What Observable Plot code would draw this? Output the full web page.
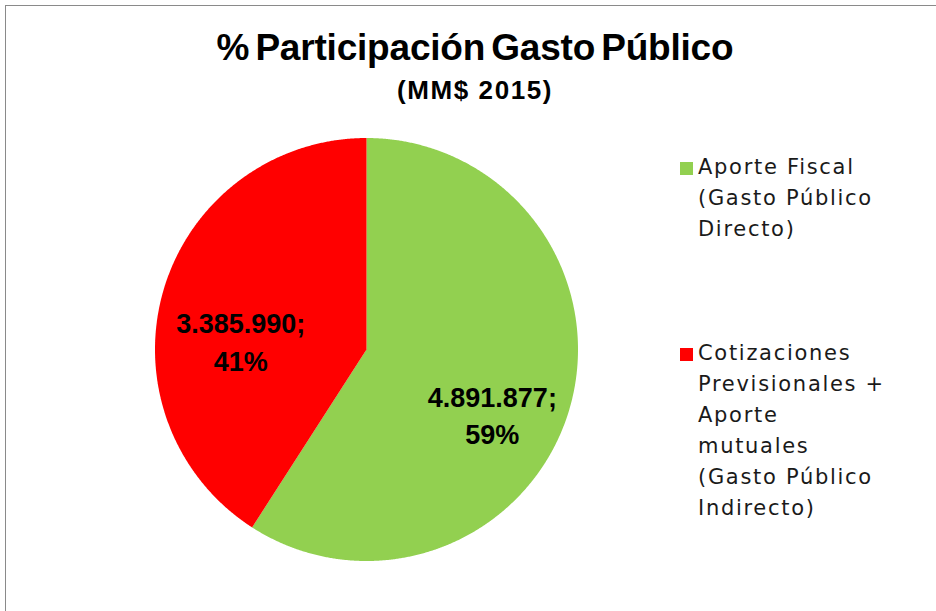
<!DOCTYPE html>
<html>
<head>
<meta charset="utf-8">
<script src="https://cdn.jsdelivr.net/npm/d3@7"></script>
<script src="https://cdn.jsdelivr.net/npm/@observablehq/plot@0.6"></script>
<style>
  html, body { margin: 0; padding: 0; background: #fff; }
  #wrap { position: relative; width: 936px; height: 611px; overflow: hidden; background: #fff; }
  #frame { position: absolute; left: 5px; top: 5px; width: 1000px; height: 700px; border: 1.5px solid #8a8a8a; box-sizing: border-box; }
  #chart { position: absolute; left: 0; top: 0; }
  .title { position: absolute; left: 0; width: 950px; text-align: center; font-family: "Liberation Sans", Arial, sans-serif; font-weight: bold; color: #000; }
  #t1 { top: 27px; font-size: 37px; letter-spacing: -0.2px; word-spacing: -4px; }
  #t2 { top: 75px; font-size: 26px; letter-spacing: 1.6px; }
  .leg { position: absolute; font-family: "DejaVu Sans", sans-serif; font-size: 21px; line-height: 31px; letter-spacing: 1.7px; color: #1a1a1a; }
  .sw { position: absolute; width: 13px; height: 13px; }
</style>
</head>
<body>
<div id="wrap">
  <div id="frame"></div>
  <div id="chart"></div>
  <div class="title" id="t1"></div>
  <div class="title" id="t2"></div>
  <div id="legend"></div>
</div>
<script>
const titleText = "% Participación Gasto Público";
const subtitleText = "(MM$ 2015)";
const categories = ["Aporte Fiscal", "Cotizaciones Previsionales"];
const legendLines = [
  ["Aporte Fiscal", "(Gasto Público", "Directo)"],
  ["Cotizaciones", "Previsionales +", "Aporte", "mutuales", "(Gasto Público", "Indirecto)"]
];
const values = [4891877, 3385990];
const colors = ["#92D050", "#FF0000"];

document.getElementById("t1").textContent = titleText;
document.getElementById("t2").textContent = subtitleText;

const total = d3.sum(values);
const arcs = d3.pie().sort(null)(values);
const loc = d3.formatLocale({decimal: ",", thousands: ".", grouping: [3], currency: ["$", ""]});
const fmt = loc.format(",");

// polygon points for each slice, in unit-circle data coordinates
const pts = [];
arcs.forEach((a, i) => {
  pts.push({cat: categories[i], x: 0, y: 0});
  const n = Math.max(2, Math.ceil((a.endAngle - a.startAngle) / 0.005));
  for (let k = 0; k <= n; k++) {
    const t = a.startAngle + (a.endAngle - a.startAngle) * k / n;
    pts.push({cat: categories[i], x: Math.sin(t), y: Math.cos(t)});
  }
  pts.push({cat: categories[i], x: 0, y: 0});
});

const labels = arcs.map((a, i) => {
  const m = (a.startAngle + a.endAngle) / 2;
  return {
    x: 0.62 * Math.sin(m),
    y: 0.62 * Math.cos(m),
    text: fmt(values[i]) + ";\n" + Math.round(100 * values[i] / total) + "%"
  };
});

const chart = Plot.plot({
  width: 936,
  height: 611,
  margin: 0,
  style: {background: "transparent"},
  x: {domain: [-1, 1], range: [154.5, 577.5], axis: null},
  y: {domain: [-1, 1], range: [560.5, 137.5], axis: null},
  color: {domain: categories, range: colors},
  marks: [
    Plot.line(pts, {x: "x", y: "y", z: "cat", fill: "cat", stroke: "none", curve: "linear"}),
    Plot.text(labels, {
      x: "x", y: "y", text: "text", dy: 27,
      fontSize: 27, fontWeight: "bold", lineHeight: 1.4,
      fontFamily: "Liberation Sans, Arial, sans-serif", fill: "#000"
    })
  ]
});
document.getElementById("chart").appendChild(chart);

// legend
const legendTops = [156, 342];
const lg = document.getElementById("legend");
legendLines.forEach((lines, i) => {
  const sw = document.createElement("div");
  sw.className = "sw";
  sw.style.left = "680px";
  sw.style.top = (legendTops[i] + 6) + "px";
  sw.style.background = colors[i];
  lg.appendChild(sw);
  const t = document.createElement("div");
  t.className = "leg";
  t.style.left = "698px";
  t.style.top = (legendTops[i] - 4) + "px";
  t.innerHTML = lines.map(s => s.replace(/&/g, "&amp;")).join("<br>");
  lg.appendChild(t);
});
</script>
</body>
</html>
